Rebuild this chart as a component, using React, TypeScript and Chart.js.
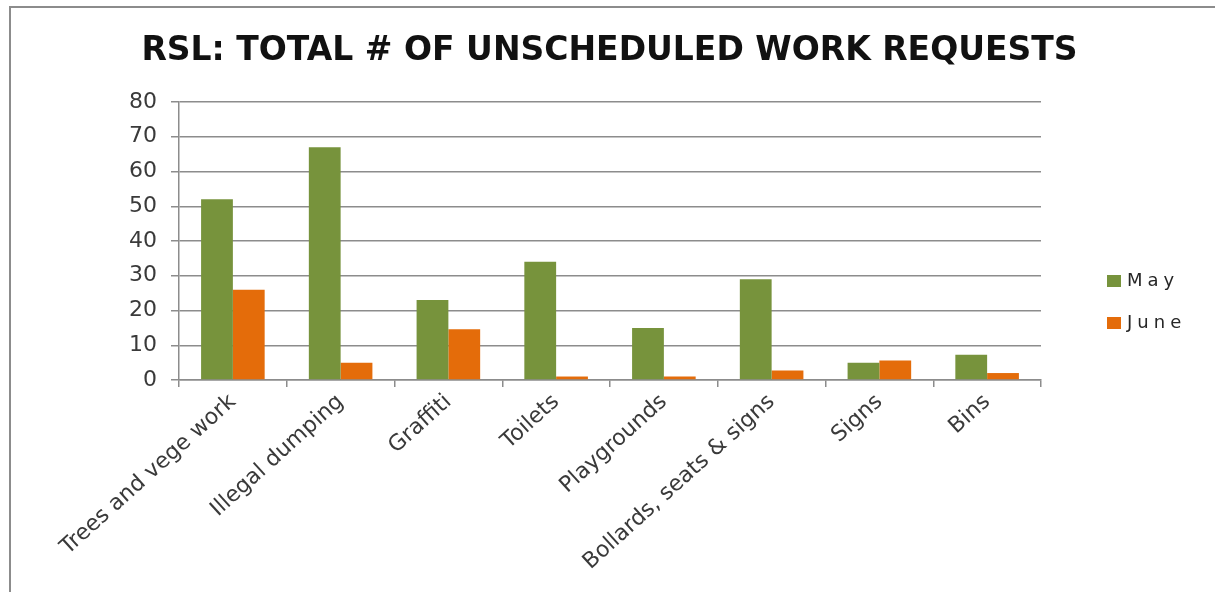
import React, { useEffect, useRef } from "react";
import { Chart, registerables } from "chart.js";

Chart.register(...registerables);

const titleText = "RSL: TOTAL # OF UNSCHEDULED WORK REQUESTS";
const categories = [
  "Trees and vege work",
  "Illegal dumping",
  "Graffiti",
  "Toilets",
  "Playgrounds",
  "Bollards, seats & signs",
  "Signs",
  "Bins",
];
const mayValues = [52, 67, 23, 34, 15, 29, 5, 7.3];
const juneValues = [26, 5, 14.6, 1, 1, 2.7, 5.6, 2];
const seriesNames = ["May", "June"];
const seriesColors = ["#77933C", "#E46C0A"];
const yMin = 0;
const yMax = 80;
const yStep = 10;

const FONT = "'DejaVu Sans', 'Liberation Sans', sans-serif";
const GRID = "#8c8c8c";
const TEXT = "#3a3a3a";

const headerAndLegend = {
  id: "headerAndLegend",
  afterDraw(chart: any) {
    const ctx = chart.ctx as CanvasRenderingContext2D;
    const area = chart.chartArea;
    ctx.save();
    // title, centred on the whole picture
    ctx.font = `bold 33px ${FONT}`;
    ctx.fillStyle = "#111111";
    ctx.textAlign = "center";
    ctx.textBaseline = "middle";
    ctx.fillText(titleText, chart.width / 2 + 2, 51);

    // legend on the right
    ctx.font = `18px ${FONT}`;
    ctx.textBaseline = "middle";
    ctx.textAlign = "left";
    chart.data.datasets.forEach((ds: any, i: number) => {
      const cy = 281 + i * 42;
      const x0 = area.right + 66;
      ctx.fillStyle = ds.backgroundColor;
      ctx.fillRect(x0, cy - 6, 14, 12);
      let x = x0 + 20;
      ctx.fillStyle = "#262626";
      for (const ch of String(ds.label)) {
        ctx.fillText(ch, x, cy);
        x += ctx.measureText(ch).width + 5;
      }
    });
    ctx.restore();
  },
};

export default function App() {
  const ref = useRef<HTMLCanvasElement | null>(null);

  useEffect(() => {
    if (!ref.current) return;
    const chart = new Chart(ref.current, {
      type: "bar",
      data: {
        labels: categories,
        datasets: [
          {
            label: seriesNames[0],
            data: mayValues,
            backgroundColor: seriesColors[0],
            categoryPercentage: 0.59,
            barPercentage: 1.0,
          },
          {
            label: seriesNames[1],
            data: juneValues,
            backgroundColor: seriesColors[1],
            categoryPercentage: 0.59,
            barPercentage: 1.0,
          },
        ],
      },
      options: {
        responsive: false,
        animation: false,
        events: [],
        layout: { padding: { left: 0, right: 174, top: 102, bottom: 0 } },
        plugins: {
          legend: { display: false },
          tooltip: { enabled: false },
          title: { display: false },
        },
        scales: {
          x: {
            afterFit: (scale: any) => {
              scale.height = 212;
            },
            grid: {
              display: true,
              offset: true,
              drawOnChartArea: false,
              drawTicks: true,
              tickLength: 7,
              color: GRID,
              lineWidth: 1.5,
            },
            border: { display: true, color: GRID, width: 1.5 },
            ticks: {
              autoSkip: false,
              minRotation: 42,
              maxRotation: 42,
              padding: 2,
              color: TEXT,
              font: { family: FONT, size: 22 },
            },
          },
          y: {
            min: yMin,
            max: yMax,
            afterFit: (scale: any) => {
              scale.width = 179;
            },
            grid: {
              color: GRID,
              lineWidth: 1.5,
              drawTicks: true,
              tickLength: 8,
            },
            border: { display: true, color: GRID, width: 1.5 },
            ticks: {
              stepSize: yStep,
              padding: 14,
              color: TEXT,
              font: { family: FONT, size: 22 },
            },
          },
        },
      },
      plugins: [headerAndLegend],
    });
    return () => chart.destroy();
  }, []);

  return (
    <div
      style={{
        position: "absolute",
        left: 0,
        top: 0,
        width: 1215,
        height: 592,
        overflow: "hidden",
        background: "#ffffff",
      }}
    >
      <div
        style={{
          position: "absolute",
          left: 9,
          top: 6,
          width: 1400,
          height: 800,
          borderLeft: "2px solid #8c8c8c",
          borderTop: "2px solid #8c8c8c",
        }}
      />
      <canvas
        ref={ref}
        width={1215}
        height={592}
        style={{ position: "absolute", left: 0, top: 0, width: 1215, height: 592 }}
      />
    </div>
  );
}
